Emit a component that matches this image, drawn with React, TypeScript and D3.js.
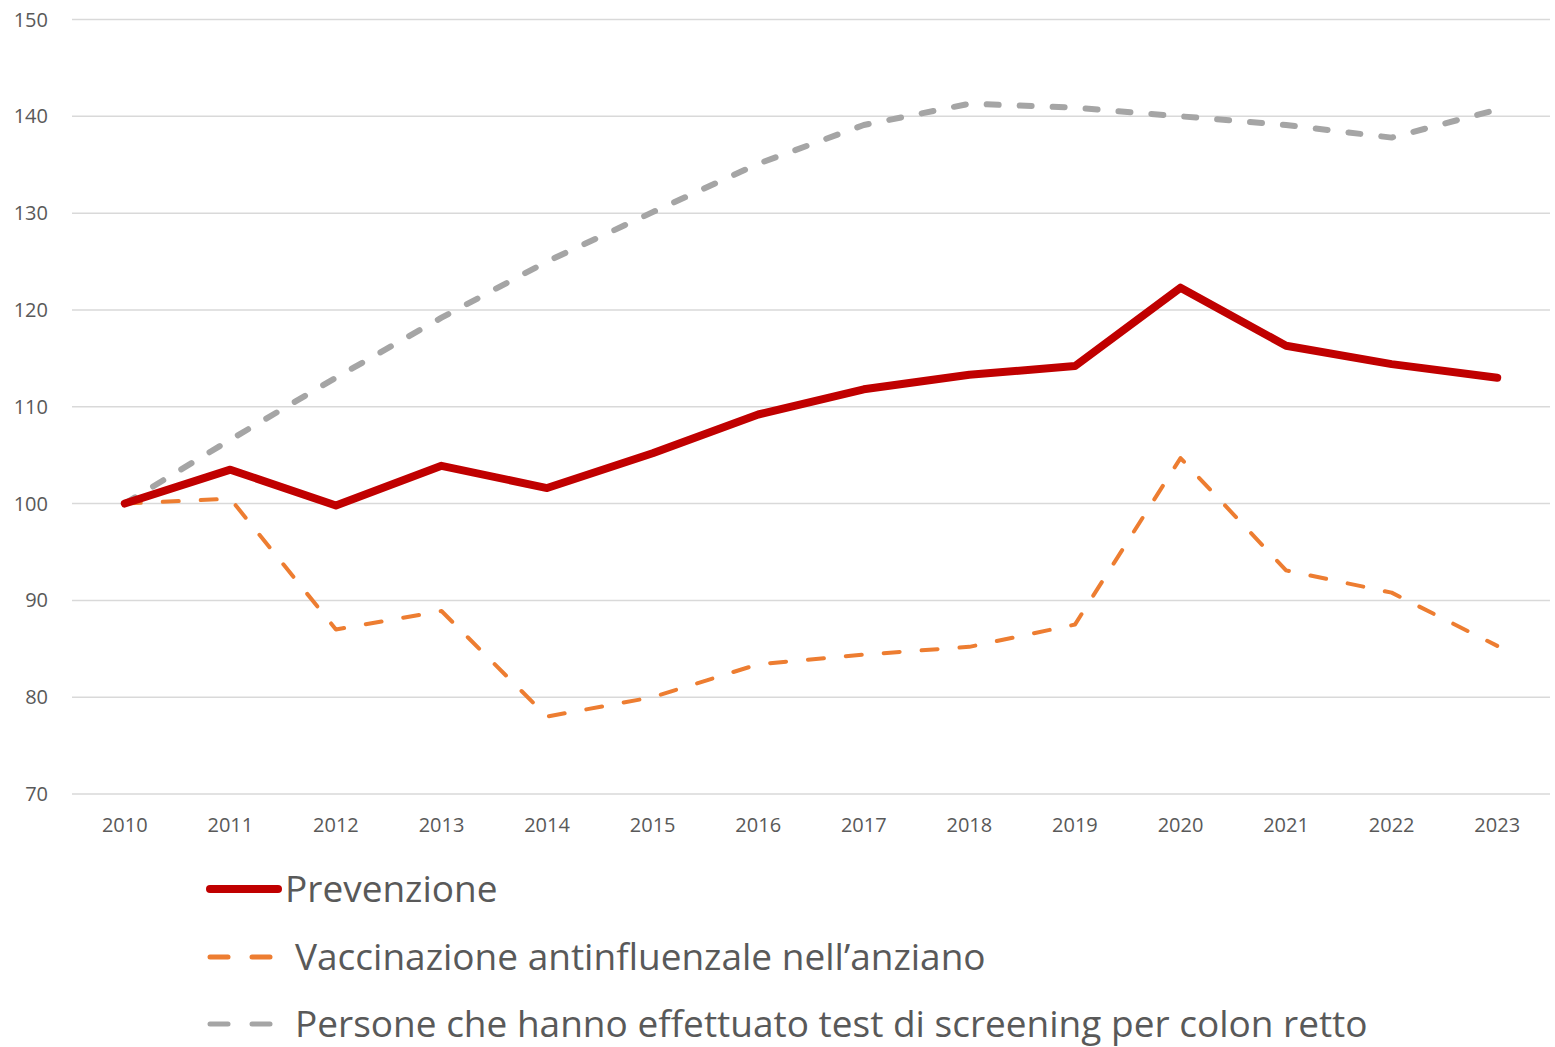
import React from 'react';
import * as d3 from 'd3';

const years = ['2010', '2011', '2012', '2013', '2014', '2015', '2016', '2017', '2018', '2019', '2020', '2021', '2022', '2023'];
const prevenzione = [100, 103.5, 99.8, 103.9, 101.6, 105.2, 109.2, 111.8, 113.3, 114.2, 122.3, 116.3, 114.4, 113.0];
const vaccinazione = [100, 100.5, 87.0, 88.9, 78.0, 80.0, 83.4, 84.4, 85.2, 87.5, 104.7, 93.1, 90.8, 85.3];
const screening = [100, 106.6, 113.0, 119.2, 125.0, 130.1, 135.1, 139.1, 141.3, 140.9, 140.0, 139.1, 137.8, 140.7];
const yTicks = [70, 80, 90, 100, 110, 120, 130, 140, 150];

const series = [
  { name: 'Prevenzione', values: prevenzione, color: '#c00000', width: 8, dash: null },
  { name: 'Vaccinazione antinfluenzale nell\u2019anziano', values: vaccinazione, color: '#ed7d31', width: 4, dash: '16 22' },
  { name: 'Persone che hanno effettuato test di screening per colon retto', values: screening, color: '#a5a5a5', width: 6, dash: '12 21' },
];

const W = 1555;
const H = 1047;
const left = 72;
const right = 1550;
const top = 19.5;
const bottom = 794;
const font = '"Open Sans", Lato, sans-serif';
const textColor = '#595959';

export default function App() {
  const x = d3.scaleBand().domain(years).range([left, right]);
  const cx = (yr: string) => (x(yr) ?? 0) + x.bandwidth() / 2;
  const y = d3.scaleLinear().domain([70, 150]).range([bottom, top]);
  const line = d3.line<number>().x((_, i) => cx(years[i])).y(d => y(d));

  const legendY = [889, 957, 1024];

  return (
    <svg width={W} height={H} style={{ position: 'absolute', left: 0, top: 0, background: '#fff' }}>
      {yTicks.map(t => (
        <g key={t}>
          <line x1={left} x2={right} y1={y(t)} y2={y(t)} stroke="#d9d9d9" strokeWidth={1.5} />
          <text x={48} y={y(t)} dy="0.35em" textAnchor="end" fontFamily={font} fontSize={20} fill={textColor}>{t}</text>
        </g>
      ))}
      {years.map(yr => (
        <text key={yr} x={cx(yr)} y={825} dy="0.35em" textAnchor="middle" fontFamily={font} fontSize={20} fill={textColor}>{yr}</text>
      ))}
      {[...series].reverse().map(s => (
        <path key={s.name} d={line(s.values) ?? ''} fill="none" stroke={s.color} strokeWidth={s.width}
          strokeDasharray={s.dash ?? undefined} strokeLinecap="round" strokeLinejoin="round" />
      ))}
      {series.map((s, i) => (
        <g key={s.name}>
          {i === 0 ? (
            <line x1={210} x2={278} y1={legendY[i]} y2={legendY[i]} stroke={s.color} strokeWidth={8} strokeLinecap="round" />
          ) : (
            <g stroke={s.color} strokeWidth={5} strokeLinecap="round">
              <line x1={210} x2={228} y1={legendY[i]} y2={legendY[i]} />
              <line x1={252} x2={270} y1={legendY[i]} y2={legendY[i]} />
            </g>
          )}
          <text x={i === 0 ? 285 : 295} y={legendY[i]} dy="0.35em" fontFamily={font} fontSize={37} fill={textColor}>{s.name}</text>
        </g>
      ))}
    </svg>
  );
}
